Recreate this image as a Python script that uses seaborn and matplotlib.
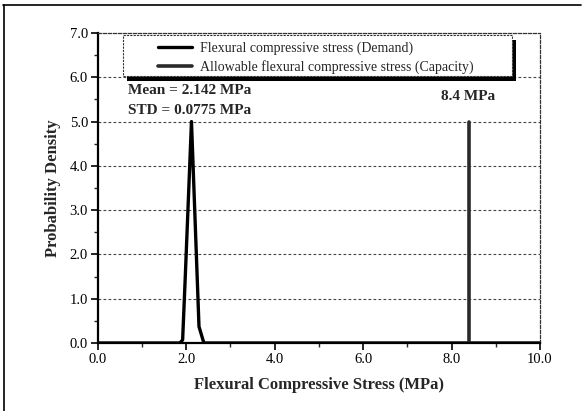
"""Probability density of flexural compressive stress: demand vs capacity."""
import matplotlib

matplotlib.use("Agg")
import matplotlib.pyplot as plt
from matplotlib.lines import Line2D
from matplotlib.patches import Rectangle
from matplotlib.ticker import MultipleLocator
import seaborn as sns

# --- data ------------------------------------------------------------------
demand_x = [0.0, 1.86, 1.92, 1.98, 2.12, 2.29, 2.40, 10.0]
demand_y = [0.0, 0.0, 0.07, 1.5, 5.0, 0.37, 0.0, 0.0]
capacity_x = [8.4, 8.4]
capacity_y = [0.0, 5.0]

demand_label = "Flexural compressive stress (Demand)"
capacity_label = "Allowable flexural compressive stress (Capacity)"
mean_text = "Mean = 2.142 MPa"
std_text = "STD = 0.0775 MPa"
capacity_text = "8.4 MPa"
# -----------------------------------------------------------------------------

sns.set_style("ticks")
plt.rcParams["font.family"] = ["Liberation Serif", "DejaVu Serif"]

fig = plt.figure(figsize=(5.84, 4.11), dpi=100)
ax = fig.add_axes([0.1673, 0.1655, 0.7574, 0.7542])

sns.lineplot(x=demand_x, y=demand_y, estimator=None, sort=False,
             color="black", lw=2.4, label=demand_label, ax=ax)
sns.lineplot(x=capacity_x, y=capacity_y, estimator=None, sort=False,
             color="#2a2a2a", lw=2.6, label=capacity_label, ax=ax)

ax.set_xlim(0, 10)
ax.set_ylim(0, 7)
ax.xaxis.set_major_locator(MultipleLocator(2))
ax.xaxis.set_minor_locator(MultipleLocator(1))
ax.yaxis.set_major_locator(MultipleLocator(1))
ax.yaxis.set_minor_locator(MultipleLocator(0.5))
ax.xaxis.set_major_formatter(lambda v, p: f"{v:.1f}")
ax.yaxis.set_major_formatter(lambda v, p: f"{v:.1f}")
ax.tick_params(which="major", direction="out", length=5, width=1.2,
               labelsize=10.5, colors="black", pad=2)
ax.tick_params(which="minor", direction="out", length=3, width=1.0)

for y in range(1, 7):
    ax.axhline(y, color="#444444", lw=0.8, ls=(0, (2.5, 2)), zorder=0)

for side in ("left", "bottom"):
    ax.spines[side].set_linewidth(1.6)
    ax.spines[side].set_color("black")
for side in ("top", "right"):
    ax.spines[side].set_visible(True)
    ax.spines[side].set_linewidth(0.9)
    ax.spines[side].set_color("#333333")
    ax.spines[side].set_linestyle((0, (2.5, 1.5)))

ax.set_xlabel("Flexural Compressive Stress (MPa)", fontsize=12,
              fontweight="bold", labelpad=8)
ax.set_ylabel("Probability Density", fontsize=12, fontweight="bold",
              labelpad=6)

ax.text(0.68, 5.71, mean_text, fontsize=11, fontweight="bold", va="center")
ax.text(0.68, 5.26, std_text, fontsize=11, fontweight="bold", va="center")
ax.text(8.38, 5.57, capacity_text, fontsize=11, fontweight="bold",
        ha="center", va="center")

# legend box with a hard black drop shadow, drawn in axes fractions
shadow = Rectangle((0.066, 0.845), 0.880, 0.133, transform=ax.transAxes,
                   facecolor="black", edgecolor="none", zorder=4,
                   clip_on=False)
frame = Rectangle((0.057, 0.861), 0.880, 0.133, transform=ax.transAxes,
                  facecolor="white", edgecolor="#333333", lw=0.8,
                  ls=(0, (2, 1)), zorder=5, clip_on=False)
ax.add_patch(shadow)
ax.add_patch(frame)

leg = ax.legend(loc="upper left", bbox_to_anchor=(0.136, 0.972),
                borderaxespad=0, borderpad=0, fontsize=10, frameon=False,
                handlelength=2.45, labelspacing=0.36, handletextpad=0.58)
leg.set_zorder(6)

# outer frame (top and left edges only, as in the scan)
fig.add_artist(Line2D([0.005, 0.995], [0.988, 0.988], color="black", lw=1.2,
                      transform=fig.transFigure))
fig.add_artist(Line2D([0.006, 0.006], [0.0, 0.988], color="black", lw=1.2,
                      transform=fig.transFigure))

fig.savefig("out.png", dpi=100)
